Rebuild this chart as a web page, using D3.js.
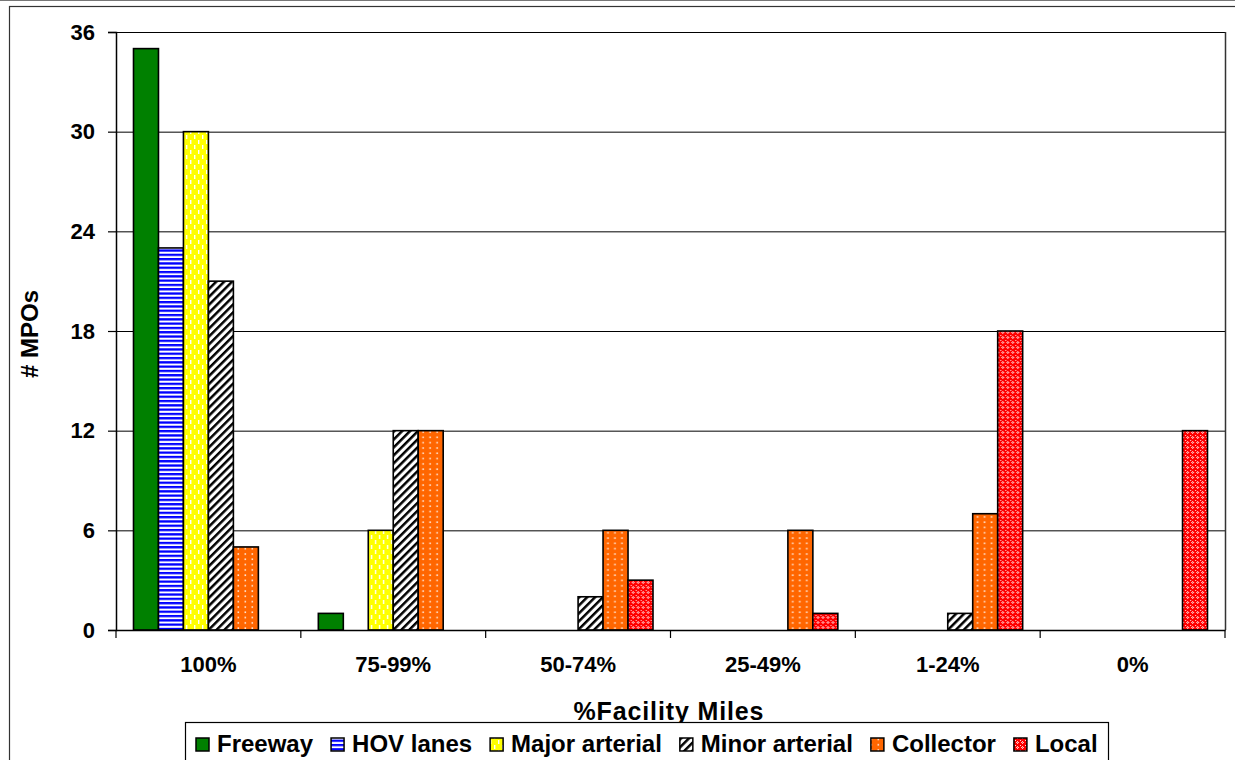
<!DOCTYPE html>
<html>
<head>
<meta charset="utf-8">
<script src="https://cdn.jsdelivr.net/npm/d3@7"></script>
<style>
  body { margin: 0; background: #fff; }
  svg text { font-family: "Liberation Sans", Arial, sans-serif; font-weight: bold; fill: #000; }
</style>
</head>
<body>
<div id="chart"></div>
<script>
const width = 1235;
const height = 760;

// data
const categories = ["100%", "75-99%", "50-74%", "25-49%", "1-24%", "0%"];
const seriesNames = ["Freeway", "HOV lanes", "Major arterial", "Minor arterial", "Collector", "Local"];
const freeway = [35, 1, 0, 0, 0, 0];
const hovLanes = [23, 0, 0, 0, 0, 0];
const majorArterial = [30, 6, 0, 0, 0, 0];
const minorArterial = [21, 12, 2, 0, 1, 0];
const collector = [5, 12, 6, 6, 7, 0];
const local = [0, 0, 3, 1, 18, 12];
const yTicks = [0, 6, 12, 18, 24, 30, 36];

const seriesValues = [freeway, hovLanes, majorArterial, minorArterial, collector, local];
const patternIds = ["p-freeway", "p-hov", "p-major", "p-minor", "p-collector", "p-local"];

const plot = { left: 116, right: 1225, top: 32, bottom: 630 };

const svg = d3.select("#chart").append("svg")
    .attr("width", width)
    .attr("height", height);

// fill patterns
const defs = svg.append("defs");

let p = defs.append("pattern").attr("id", "p-freeway")
    .attr("patternUnits", "userSpaceOnUse").attr("width", 4).attr("height", 4);
p.append("rect").attr("width", 4).attr("height", 4).attr("fill", "#008000");

p = defs.append("pattern").attr("id", "p-hov")
    .attr("patternUnits", "userSpaceOnUse").attr("width", 4).attr("height", 4.3);
p.append("rect").attr("width", 4).attr("height", 4.3).attr("fill", "#fff");
p.append("rect").attr("width", 4).attr("height", 2.3).attr("fill", "#0000ff");

p = defs.append("pattern").attr("id", "p-major")
    .attr("patternUnits", "userSpaceOnUse").attr("width", 8).attr("height", 10);
p.append("rect").attr("width", 8).attr("height", 10).attr("fill", "#ffff00");
p.append("rect").attr("x", 2).attr("y", 0).attr("width", 1.4).attr("height", 4).attr("fill", "#fff");
p.append("rect").attr("x", 6).attr("y", 5).attr("width", 1.4).attr("height", 4).attr("fill", "#fff");

p = defs.append("pattern").attr("id", "p-minor")
    .attr("patternUnits", "userSpaceOnUse").attr("width", 5.6).attr("height", 5.6)
    .attr("patternTransform", "rotate(45)");
p.append("rect").attr("width", 5.6).attr("height", 5.6).attr("fill", "#fff");
p.append("rect").attr("width", 2.5).attr("height", 5.6).attr("fill", "#000");

p = defs.append("pattern").attr("id", "p-collector")
    .attr("patternUnits", "userSpaceOnUse").attr("width", 7).attr("height", 5.3);
p.append("rect").attr("width", 7).attr("height", 5.3).attr("fill", "#ff6600");
p.append("rect").attr("x", 2.5).attr("y", 2).attr("width", 1.6).attr("height", 1.6).attr("fill", "#ffe6d6");

p = defs.append("pattern").attr("id", "p-local")
    .attr("patternUnits", "userSpaceOnUse").attr("width", 5).attr("height", 5);
p.append("rect").attr("width", 5).attr("height", 5).attr("fill", "#ff0000");
p.append("rect").attr("x", 2).attr("y", 1).attr("width", 1).attr("height", 3).attr("fill", "#ffc4c4");
p.append("rect").attr("x", 1).attr("y", 2).attr("width", 3).attr("height", 1).attr("fill", "#ffc4c4");
p.append("rect").attr("x", 2).attr("y", 2).attr("width", 1).attr("height", 1).attr("fill", "#ff5050");
p.append("rect").attr("x", 0).attr("y", 0).attr("width", 1).attr("height", 1).attr("fill", "#ffd8d8");

// outer chart frame
svg.append("line")
    .attr("x1", 0).attr("x2", width).attr("y1", 0.5).attr("y2", 0.5)
    .attr("stroke", "#777").attr("stroke-width", 1);
svg.append("rect")
    .attr("x", 9.5).attr("y", 6.5).attr("width", 1400).attr("height", 900)
    .attr("fill", "none").attr("stroke", "#333").attr("stroke-width", 1.2);

// scales
const x0 = d3.scaleBand()
    .domain(categories)
    .range([plot.left, plot.right]);

const x1 = d3.scaleBand()
    .domain(seriesNames)
    .range([17.5, x0.bandwidth() - 17.5]);

const y = d3.scaleLinear()
    .domain([0, 36])
    .range([plot.bottom, plot.top]);

// gridlines
svg.append("g")
    .selectAll("line")
    .data(yTicks.filter(t => t > 0))
    .join("line")
    .attr("x1", plot.left).attr("x2", plot.right)
    .attr("y1", d => y(d) + 0.5).attr("y2", d => y(d) + 0.5)
    .attr("stroke", "#000").attr("stroke-width", 1);

// plot area right edge
svg.append("line")
    .attr("x1", plot.right + 0.5).attr("x2", plot.right + 0.5)
    .attr("y1", plot.top).attr("y2", plot.bottom)
    .attr("stroke", "#333").attr("stroke-width", 1.5);

// bars
const groups = svg.append("g")
    .selectAll("g")
    .data(categories)
    .join("g")
    .attr("transform", d => `translate(${x0(d)},0)`);

groups.selectAll("rect")
    .data((c, i) => seriesNames.map((s, j) => ({ series: s, value: seriesValues[j][i], pid: patternIds[j] }))
        .filter(d => d.value > 0))
    .join("rect")
    .attr("x", d => x1(d.series))
    .attr("y", d => y(d.value))
    .attr("width", x1.bandwidth())
    .attr("height", d => y(0) - y(d.value))
    .attr("fill", d => `url(#${d.pid})`)
    .attr("stroke", "#000")
    .attr("stroke-width", 1.6);

// y axis
const yAxis = svg.append("g")
    .attr("transform", `translate(${plot.left},0)`)
    .call(d3.axisLeft(y).tickValues(yTicks).tickSize(8).tickPadding(13));
yAxis.select(".domain").attr("stroke", "#000").attr("stroke-width", 1.5);
yAxis.selectAll(".tick line").attr("stroke", "#000").attr("stroke-width", 1.2);
yAxis.selectAll(".tick text")
    .attr("font-size", 22)
    .attr("font-family", "Liberation Sans, Arial, sans-serif")
    .attr("font-weight", "bold");

// x axis
const xAxis = svg.append("g")
    .attr("transform", `translate(0,${plot.bottom})`)
    .call(d3.axisBottom(x0).tickSize(0).tickPadding(26));
xAxis.select(".domain").attr("stroke", "#000").attr("stroke-width", 1.5);
xAxis.selectAll(".tick text")
    .attr("font-size", 22)
    .attr("font-family", "Liberation Sans, Arial, sans-serif")
    .attr("font-weight", "bold");

// category boundary ticks
svg.append("g")
    .selectAll("line")
    .data(d3.range(categories.length + 1))
    .join("line")
    .attr("x1", i => plot.left + x0.bandwidth() * i)
    .attr("x2", i => plot.left + x0.bandwidth() * i)
    .attr("y1", plot.bottom).attr("y2", plot.bottom + 8)
    .attr("stroke", "#000").attr("stroke-width", 1.2);

// axis titles
svg.append("text")
    .attr("transform", "translate(38,334) rotate(-90)")
    .attr("text-anchor", "middle")
    .attr("font-size", 24)
    .text("# MPOs");

svg.append("text")
    .attr("x", (plot.left + plot.right) / 2 - 2)
    .attr("y", 720)
    .attr("text-anchor", "middle")
    .attr("font-size", 25)
    .attr("textLength", 190)
    .attr("lengthAdjust", "spacing")
    .text("%Facility Miles");

// legend
const legend = svg.append("g");
legend.append("rect")
    .attr("x", 185.5).attr("y", 722.5)
    .attr("width", 923).attr("height", 60)
    .attr("fill", "#fff").attr("stroke", "#000").attr("stroke-width", 1.2);

let lx = 196;
seriesNames.forEach((name, i) => {
    legend.append("rect")
        .attr("x", lx).attr("y", 738)
        .attr("width", 13).attr("height", 13)
        .attr("fill", `url(#${patternIds[i]})`)
        .attr("stroke", "#000").attr("stroke-width", 1.5);
    const t = legend.append("text")
        .attr("x", lx + 21)
        .attr("y", 752)
        .attr("font-size", 24)
        .text(name);
    lx += 21 + t.node().getComputedTextLength() + 18;
});
</script>
</body>
</html>
